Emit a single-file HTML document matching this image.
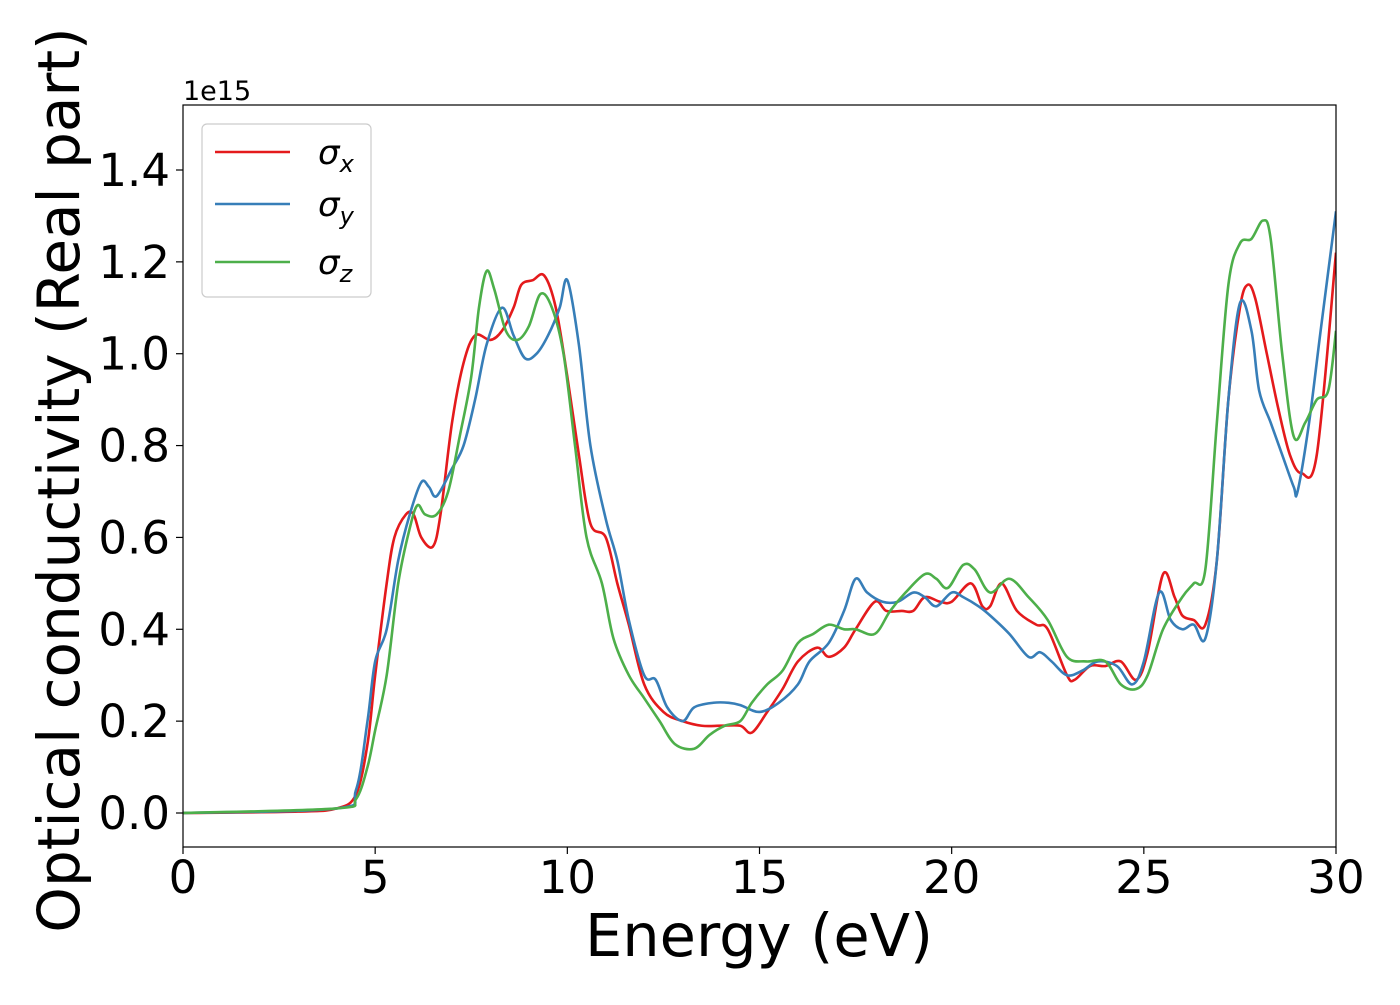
<!DOCTYPE html>
<html><head><meta charset="utf-8"><style>
body{margin:0;background:#fff;}
svg text{font-family:"DejaVu Sans","Liberation Sans",sans-serif;}
</style></head><body>
<svg id="chart" width="1400" height="1000" xmlns="http://www.w3.org/2000/svg">
<rect x="0" y="0" width="1400" height="1000" fill="#fff"/>
<g id="series"></g>
<rect x="183" y="105" width="1153" height="742" fill="none" stroke="#000" stroke-width="1.2"/>
<g id="xticks"></g><g id="yticks"></g>
<text x="183" y="100" font-size="27">1e15</text>
<text x="759" y="956" font-size="59" text-anchor="middle">Energy (eV)</text>
<text transform="translate(79,480) rotate(-90)" font-size="58" text-anchor="middle">Optical conductivity (Real part)</text>
<g>
<rect x="202" y="124" width="169" height="173" rx="5" fill="#fff" fill-opacity="0.8" stroke="#ccc" stroke-width="1.2"/>
<g><line x1="215" y1="152" x2="290" y2="152" stroke="#e41a1c" stroke-width="2.6"/><text x="318" y="164" font-size="34" font-style="italic">σ<tspan font-size="24" dy="8">x</tspan></text></g>
<g><line x1="215" y1="204" x2="290" y2="204" stroke="#377eb8" stroke-width="2.6"/><text x="318" y="216" font-size="34" font-style="italic">σ<tspan font-size="24" dy="8">y</tspan></text></g>
<g><line x1="215" y1="262" x2="290" y2="262" stroke="#4daf4a" stroke-width="2.6"/><text x="318" y="274" font-size="34" font-style="italic">σ<tspan font-size="24" dy="8">z</tspan></text></g>
</g>
</svg>
<script>
const xTickLabels=["0","5","10","15","20","25","30"];
const xTickValues=[0,5,10,15,20,25,30];
const yTickLabels=["0.0","0.2","0.4","0.6","0.8","1.0","1.2","1.4"];
const yTickValues=[0,0.2,0.4,0.6,0.8,1.0,1.2,1.4];
const seriesNames=["sigma-x","sigma-y","sigma-z"];
const seriesColors=["#e41a1c","#377eb8","#4daf4a"];
const energyX=[0,3,4,4.5,4.8,5,5.3,5.5,5.8,6,6.2,6.5,6.7,7,7.3,7.6,8,8.3,8.6,8.8,9.1,9.4,9.7,10,10.3,10.6,11,11.3,11.6,12,12.5,13,13.5,14,14.5,14.8,15.2,15.6,16,16.5,16.8,17.2,17.5,18,18.3,18.7,19,19.3,19.7,20,20.5,20.8,21,21.3,21.7,22.2,22.5,23,23.2,23.6,24,24.4,24.8,25.1,25.5,25.8,26,26.3,26.6,26.9,27.2,27.5,27.7,27.9,28.2,28.5,28.8,29.1,29.5,30];
const sigmaX=[0,0.003,0.01,0.04,0.15,0.3,0.5,0.6,0.65,0.65,0.6,0.58,0.65,0.85,0.98,1.04,1.03,1.05,1.10,1.15,1.16,1.17,1.1,0.95,0.78,0.63,0.6,0.5,0.41,0.28,0.22,0.2,0.19,0.19,0.19,0.175,0.22,0.27,0.33,0.36,0.34,0.36,0.4,0.46,0.44,0.44,0.44,0.47,0.46,0.46,0.5,0.45,0.45,0.5,0.44,0.41,0.40,0.3,0.29,0.32,0.32,0.33,0.29,0.35,0.52,0.47,0.43,0.42,0.41,0.55,0.9,1.10,1.15,1.12,1.0,0.88,0.78,0.74,0.78,1.22];
const energyY=[0,4,4.5,4.8,5,5.3,5.6,5.9,6.2,6.4,6.6,7,7.3,7.6,7.9,8.3,8.6,8.9,9.2,9.5,9.8,10,10.3,10.6,11,11.3,11.6,12,12.3,12.6,13,13.3,13.8,14.2,14.5,15,15.5,16,16.3,16.8,17.2,17.5,17.8,18.2,18.6,19,19.3,19.6,20,20.3,20.7,21,21.5,22,22.3,22.6,23,23.4,23.8,24.3,24.7,25,25.4,25.7,26,26.3,26.6,26.9,27.2,27.5,27.8,28,28.3,28.6,28.9,29,29.3,29.6,30];
const sigmaY=[0,0.01,0.05,0.2,0.33,0.4,0.55,0.65,0.72,0.71,0.69,0.75,0.8,0.9,1.02,1.10,1.04,0.99,1.0,1.04,1.1,1.16,1.02,0.80,0.64,0.55,0.42,0.30,0.29,0.23,0.2,0.23,0.24,0.24,0.235,0.22,0.24,0.28,0.33,0.37,0.44,0.51,0.48,0.46,0.46,0.48,0.47,0.45,0.48,0.47,0.45,0.43,0.39,0.34,0.35,0.33,0.3,0.31,0.33,0.32,0.28,0.33,0.48,0.42,0.40,0.41,0.38,0.55,0.9,1.11,1.05,0.92,0.85,0.78,0.71,0.70,0.85,1.05,1.31];
const energyZ=[0,4,4.5,4.8,5,5.3,5.6,5.9,6.1,6.3,6.6,6.9,7.2,7.5,7.7,7.9,8.1,8.4,8.7,9,9.3,9.6,9.9,10.2,10.5,10.9,11.2,11.6,12,12.4,12.8,13.3,13.7,14.1,14.5,14.8,15.2,15.6,16,16.4,16.8,17.2,17.5,18,18.4,18.8,19.3,19.6,19.9,20.3,20.6,21,21.5,22,22.5,23,23.5,24,24.4,24.8,25.1,25.5,26,26.3,26.6,26.9,27.2,27.5,27.8,28.1,28.3,28.6,28.9,29.2,29.5,29.8,30];
const sigmaZ=[0,0.01,0.03,0.1,0.18,0.3,0.5,0.62,0.67,0.65,0.65,0.7,0.82,0.95,1.1,1.18,1.14,1.05,1.03,1.06,1.13,1.1,1.0,0.8,0.6,0.50,0.38,0.3,0.25,0.2,0.15,0.14,0.17,0.19,0.2,0.24,0.28,0.31,0.37,0.39,0.41,0.4,0.4,0.39,0.44,0.48,0.52,0.51,0.49,0.54,0.53,0.48,0.51,0.47,0.42,0.34,0.33,0.33,0.28,0.27,0.3,0.40,0.47,0.5,0.53,0.85,1.15,1.24,1.25,1.29,1.25,1.0,0.82,0.85,0.9,0.92,1.05];

const NS="http://www.w3.org/2000/svg";
const xScale=v=>183+v/30*1153;
const yScale=v=>813-v/1.4*643;
const svg=document.getElementById('chart');
const xt=document.getElementById('xticks'), yt=document.getElementById('yticks'), sg=document.getElementById('series');
xTickValues.forEach((v,i)=>{
  const x=xScale(v);
  const l=document.createElementNS(NS,'line');
  l.setAttribute('x1',x);l.setAttribute('x2',x);l.setAttribute('y1',847);l.setAttribute('y2',854);l.setAttribute('stroke','#000');l.setAttribute('stroke-width','1.2');
  
  
  xt.appendChild(l);
  const t=document.createElementNS(NS,'text');
  t.setAttribute('x',x);t.setAttribute('y',893);t.setAttribute('font-size','45');t.setAttribute('text-anchor','middle');
  t.textContent=xTickLabels[i];
  
  
  xt.appendChild(t);
});
yTickValues.forEach((v,i)=>{
  const y=yScale(v);
  const l=document.createElementNS(NS,'line');
  l.setAttribute('x1',176);l.setAttribute('x2',183);l.setAttribute('y1',y);l.setAttribute('y2',y);l.setAttribute('stroke','#000');l.setAttribute('stroke-width','1.2');
  
  
  yt.appendChild(l);
  const t=document.createElementNS(NS,'text');
  t.setAttribute('x',170);t.setAttribute('y',y+16);t.setAttribute('font-size','45');t.setAttribute('text-anchor','end');
  t.textContent=yTickLabels[i];
  
  
  yt.appendChild(t);
});
function smoothPath(xs,ys){
  const p=xs.map((x,i)=>[xScale(x),yScale(ys[i])]);
  let d='M'+p[0][0]+','+p[0][1];
  for(let i=0;i<p.length-1;i++){
    const p0=p[Math.max(0,i-1)],p1=p[i],p2=p[i+1],p3=p[Math.min(p.length-1,i+2)];
    const c1=[p1[0]+(p2[0]-p0[0])/6,p1[1]+(p2[1]-p0[1])/6];
    const c2=[p2[0]-(p3[0]-p1[0])/6,p2[1]-(p3[1]-p1[1])/6];
    d+=' C'+c1[0]+','+c1[1]+' '+c2[0]+','+c2[1]+' '+p2[0]+','+p2[1];
  }
  return d;
}
const xsAll=[energyX,energyY,energyZ], ysAll=[sigmaX,sigmaY,sigmaZ];
for(let k=0;k<3;k++){
  const path=document.createElementNS(NS,'path');
  path.setAttribute('d',smoothPath(xsAll[k],ysAll[k]));
  path.setAttribute('fill','none');path.setAttribute('stroke',seriesColors[k]);path.setAttribute('stroke-width','2.6');
  path.setAttribute('clip-path','url(#clip)');
  
  
  sg.appendChild(path);
}
const defs=document.createElementNS(NS,'defs');
defs.innerHTML='<clipPath id="clip"><rect x="183" y="105" width="1153" height="742"/></clipPath>';
svg.insertBefore(defs,svg.firstChild);
</script>
</body></html>
